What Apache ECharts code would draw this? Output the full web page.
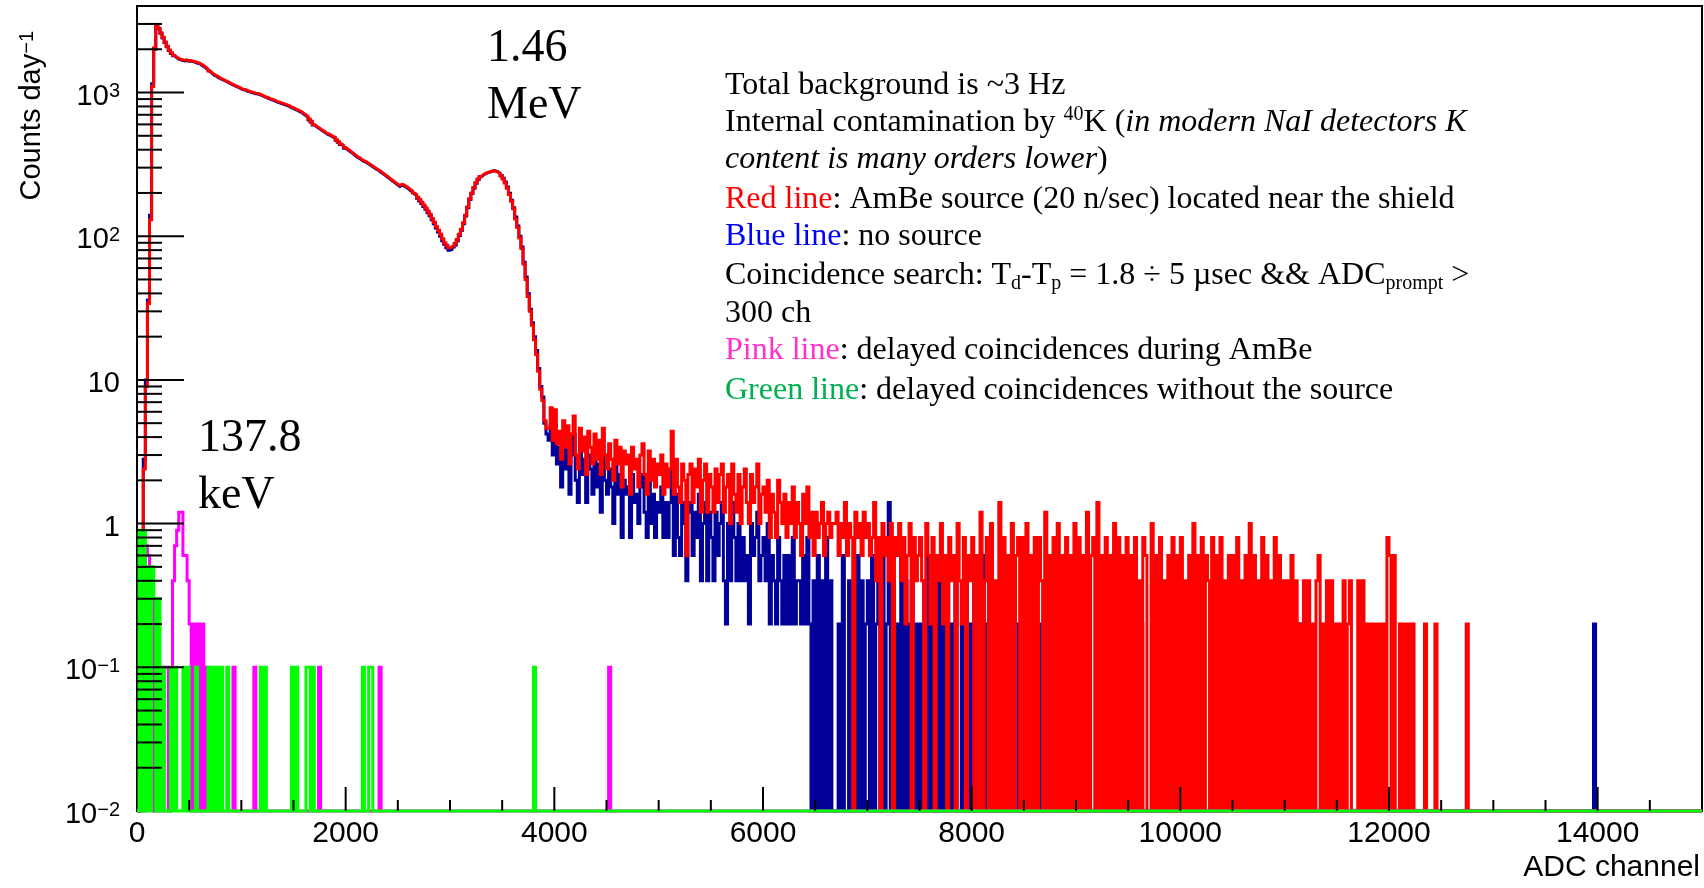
<!DOCTYPE html>
<html>
<head>
<meta charset="utf-8">
<script src="https://cdn.jsdelivr.net/npm/echarts@6/dist/echarts.min.js"></script>
<style>
  html, body { margin: 0; padding: 0; background: #ffffff; }
  #chart { width: 1704px; height: 888px; }
</style>
</head>
<body>
<div id="chart"></div>
<script>
// ---- histogram binning ----
const binWidth = 20;      // ADC channels per bin
const xMax = 15000;
const yMin = 0.01;
const yMax = 4000;

// ---- NaI spectrum with AmBe source (counts/day per bin), bins start at channel 0 ----
const redSpectrum = [
  0, 0, 0.6, 2.4, 9, 34, 130, 1100, 2050, 2950, 2800, 2600, 2420, 2250, 2100, 1980, 1890, 1820, 1770, 1730, 1700, 1690, 1680, 1690, 1660,
  1670, 1650, 1640, 1620, 1600, 1570, 1540, 1500, 1460, 1410, 1370, 1340, 1310, 1290, 1260, 1240, 1220, 1200, 1180, 1160, 1140, 1120, 1100, 1090, 1070,
  1055, 1050, 1030, 1020, 1010, 1000, 990, 985, 975, 960, 945, 930, 920, 905, 895, 885, 870, 860, 850, 840, 830, 820, 810, 795, 785,
  770, 760, 745, 735, 715, 700, 680, 655, 630, 600, 585, 570, 560, 545, 535, 520, 515, 505, 495, 490, 470, 455, 440, 430, 415,
  405, 395, 385, 375, 365, 355, 350, 340, 335, 330, 322, 316, 308, 300, 295, 288, 282, 275, 268, 262, 255, 248, 242, 236, 230,
  226, 230, 228, 222, 218, 212, 207, 200, 195, 187, 180, 172, 165, 157, 150, 142, 133, 125, 117, 110, 103, 96, 90, 86, 83,
  84, 86, 89, 95, 103, 112, 124, 140, 160, 182, 200, 218, 236, 250, 260, 268, 274, 277, 280, 283, 285, 282, 280, 272, 262,
  250, 235, 216, 195, 175, 155, 132, 115, 97, 82, 64, 50, 38, 30, 24, 19, 15, 11.5, 8.6, 7.2, 5.2, 4.6, 4.6, 6.4, 3.8,
  6.2, 3.6, 4.4, 2.8, 5.2, 3.4, 4.8, 2.6, 4.2, 5.6, 3.0, 2.4, 4.6, 3.2, 4.0, 2.2, 4.4, 3.4, 2.6, 4.2, 2.8, 3.8, 2.2, 4.6, 3.0,
  2.4, 3.6, 2.8, 2.0, 3.8, 2.6, 3.4, 1.8, 3.2, 2.6, 3.0, 1.6, 3.4, 2.4, 2.8, 1.8, 3.0, 3.6, 2.2, 1.6, 3.2, 2.0, 2.8, 1.8, 2.6,
  2.2, 3.0, 1.6, 2.6, 1.8, 2.4, 4.4, 1.6, 2.8, 1.8, 1.4, 2.6, 2.0, 0.6, 2.2, 2.6, 1.4, 2.4, 1.8, 2.8, 1.2, 2.0, 2.6, 1.2, 2.2,
  1.8, 1.2, 2.4, 1.4, 2.2, 2.6, 1.2, 1.8, 2.2, 1.0, 2.6, 1.6, 1.2, 2.2, 1.0, 1.8, 2.4, 1.4, 1.0, 2.2, 1.4, 1.8, 2.6, 1.0, 1.6,
  1.8, 1.2, 2.0, 0.8, 1.6, 1.2, 0.8, 2.0, 1.4, 1.0, 1.6, 0.8, 1.4, 1.0, 1.8, 0.8, 1.4, 1.0, 0.6, 1.6, 1.0, 1.8, 0.8, 1.2, 0.6,
  1.2, 0.8, 1.0, 1.4, 0.6, 1.0, 1.2, 0.8, 1.0, 1.0, 1.2, 0.6, 1.0, 0.8, 1.4, 0.6, 1.0, 0.8, 0, 1.2, 0.8, 1.0, 0.6, 1.2, 0.8,
  1.0, 0.6, 0.8, 1.4, 0.4, 0.8, 0, 1.0, 0.6, 0.8, 0.4, 1.0, 0, 0.8, 0.6, 1.0, 0.4, 0.8, 0.2, 0.6, 1.0, 0, 0.8, 0.4, 0.6,
  0.8, 0.4, 0, 1.0, 0.6, 0.2, 0.8, 0, 0.6, 0.4, 1.0, 0.2, 0.6, 0, 0.8, 0.4, 0.6, 0, 1.0, 0.4, 0.2, 0.8, 0, 0.6, 0.4,
  0.8, 0, 0.6, 0, 1.2, 0, 0.4, 0.8, 0, 1.0, 0, 0.4, 0, 1.4, 0, 0.8, 0, 0.6, 0, 1.0, 0, 0.6, 0.8, 0, 0.8,
  0, 1.0, 0, 0.6, 0, 0.8, 0, 0.8, 0.4, 0, 1.2, 0, 0.6, 0, 0.8, 0, 1.0, 0, 0.6, 0, 0.8, 0, 0.6, 0, 1.0,
  0, 0.8, 0, 0.6, 0, 1.2, 0, 0.6, 0.8, 0, 1.4, 0, 0.6, 0, 0.8, 0, 0.6, 0, 1.0, 0, 0.8, 0, 0.6, 0, 0.8,
  0, 0.6, 0, 0.8, 0, 0.4, 0, 0.8, 0.6, 0, 0, 1.0, 0, 0.6, 0, 0.8, 0, 0.4, 0, 0.6, 0, 0.8, 0, 0.6, 0,
  0.8, 0, 0.4, 0, 0.6, 0, 1.0, 0, 0.6, 0, 0.8, 0, 0.6, 0.4, 0, 0.8, 0, 0.6, 0, 0.8, 0, 0.4, 0, 0.6, 0,
  0.6, 0, 0.8, 0, 0.4, 0, 0.6, 0, 1.0, 0, 0.6, 0, 0.4, 0, 0.8, 0, 0.6, 0, 0.4, 0, 0.8, 0, 0.6, 0, 0.4,
  0, 0.4, 0, 0.6, 0, 0.4, 0, 0.2, 0, 0.4, 0, 0.4, 0, 0.2, 0, 0.4, 0.6, 0, 0.2, 0, 0.4, 0, 0.4, 0, 0.2,
  0, 0.2, 0, 0.4, 0, 0.2, 0.4, 0, 0, 0, 0.4, 0, 0.4, 0, 0.2, 0, 0.2, 0, 0.2, 0, 0.2, 0, 0.2, 0, 0.8,
  0.6, 0, 0.6, 0, 0, 0.2, 0, 0.2, 0, 0.2, 0, 0.2, 0, 0, 0, 0, 0, 0.2, 0, 0, 0, 0, 0.2
];
const redIsolated = [[12740, 0.2]];

// ---- NaI spectrum without source (counts/day per bin) ----
const blueSpectrum = [
  0, 0.3, 0.8, 2.8, 10, 36, 140, 1150, 2000, 2900, 2780, 2580, 2400, 2230, 2080, 1960, 1870, 1800, 1750, 1710, 1690, 1670, 1660, 1670, 1650,
  1650, 1640, 1620, 1600, 1590, 1550, 1520, 1480, 1440, 1400, 1360, 1320, 1300, 1270, 1250, 1230, 1210, 1190, 1170, 1150, 1130, 1110, 1095, 1080, 1060,
  1045, 1040, 1020, 1010, 1000, 990, 980, 975, 965, 950, 935, 920, 910, 895, 885, 875, 860, 850, 840, 830, 820, 810, 800, 785, 775,
  760, 750, 735, 725, 705, 690, 670, 645, 620, 595, 580, 565, 552, 540, 528, 515, 508, 498, 490, 482, 465, 450, 435, 425, 410,
  400, 390, 380, 370, 360, 352, 345, 336, 331, 326, 318, 312, 304, 297, 291, 285, 278, 272, 265, 258, 252, 245, 239, 233, 227,
  222, 226, 224, 219, 214, 208, 203, 197, 191, 184, 176, 169, 161, 154, 146, 139, 130, 122, 114, 107, 100, 93, 88, 83, 80,
  81, 84, 87, 93, 101, 110, 122, 138, 158, 180, 198, 216, 234, 248, 258, 266, 272, 276, 279, 282, 286, 284, 281, 274, 265,
  253, 238, 220, 199, 178, 158, 136, 118, 100, 84, 66, 52, 40, 31, 25, 20, 16, 12, 9, 7.6, 5.0, 4.2, 3.8, 4.8, 3.0,
  4.8, 2.6, 3.4, 1.8, 3.8, 2.4, 3.6, 1.6, 3.0, 4.2, 2.0, 1.4, 3.2, 2.2, 2.8, 1.4, 3.0, 2.4, 1.6, 2.8, 1.8, 2.6, 1.2, 3.0, 2.0,
  1.6, 2.4, 1.8, 1.0, 2.6, 1.6, 2.2, 0.8, 2.0, 1.6, 1.8, 0.8, 2.2, 1.4, 1.6, 1.0, 1.8, 2.2, 1.2, 0.8, 2.0, 1.0, 1.6, 0.8, 1.4,
  1.2, 1.8, 0.8, 1.4, 0.8, 1.4, 2.4, 0.6, 1.6, 0.8, 0.6, 1.4, 1.0, 0.4, 1.2, 1.4, 0.6, 1.2, 0.8, 1.6, 0.4, 1.0, 1.4, 0.4, 1.2,
  0.8, 0.4, 1.2, 0.6, 1.0, 1.4, 0.4, 0.2, 1.0, 0.4, 1.4, 0.8, 0.4, 1.0, 0.4, 0.8, 0.4, 0.6, 0.2, 1.0, 0.6, 0.8, 1.2, 0.4, 0.6,
  0.8, 0.4, 1.0, 0.2, 0.6, 0.4, 0.2, 0.8, 0.4, 0.2, 0.6, 0.2, 0.6, 0.2, 0.8, 0.2, 0.4, 0.4, 0.2, 0.6, 0.2, 0.8, 0.2, 0, 0.4,
  0, 0.6, 0, 0.4, 0, 0.8, 0, 0.4, 0, 0, 0, 0.2, 0, 0.6, 0, 0, 0.4, 0, 0.2, 0, 0.6, 0, 0.4, 0, 0.2,
  0.4, 0, 0.6, 0, 0.2, 0.4, 0, 0.6, 0, 0.2, 1.4, 0, 0.4, 0, 0.2, 0, 0.6, 0, 0.4, 0, 0.2, 0.4, 0, 0.2, 0,
  0.2, 0, 0.4, 0, 0.6, 0, 0.2, 0, 0, 0.4, 0, 0.2, 0, 0.6, 0, 0.2, 0, 0.4, 0, 0, 0.2, 0, 0.4, 0, 0.2,
  0, 0.4, 0, 0.2, 0, 0.6, 0, 0.2, 0, 0.4, 0, 0, 0.2, 0, 0.4, 0, 0.2, 0, 0, 0.6, 0, 0.2, 0, 0, 0.2,
  0, 0, 0.2, 0, 0, 0, 0, 0.2, 0, 0, 0, 0, 0.2, 0, 0, 0, 0, 0, 0, 0, 0.2, 0, 0, 0, 0,
  0, 0, 0, 0.2, 0, 0, 0, 0, 0, 0, 0.4, 0, 0, 0, 0, 0, 0, 0, 0, 0, 0, 0, 0, 0, 0,
  0, 0, 0, 0, 0, 0, 0.2, 0, 0, 0, 0, 0, 0, 0, 0, 0, 0, 0, 0, 0, 0, 0.2, 0, 0, 0,
  0, 0, 0, 0, 0, 0, 0, 0, 0.2, 0, 0, 0, 0, 0, 0, 0, 0.2, 0, 0.2, 0, 0, 0, 0, 0.2, 0,
  0, 0, 0, 0, 0, 0.2, 0.2, 0, 0, 0, 0, 0, 0, 0, 0, 0, 0, 0, 0, 0, 0, 0, 0.2, 0, 0,
  0, 0, 0, 0, 0, 0, 0, 0.2
];
const blueIsolated = [[13960, 0.2]];

// ---- delayed coincidences, non-empty bins as [channel, counts/day] ----
const pinkBins = [
  [80, 0.7], [100, 0.6], [120, 0.4], [140, 0.3], [220, 0.1], [260, 0.1], [280, 0.1],
  [320, 0.1], [340, 0.4], [360, 0.7], [380, 0.9], [400, 1.2], [420, 1.2], [440, 0.6], [460, 0.6], [480, 0.4],
  [500, 0.2], [540, 0.2], [580, 0.2], [620, 0.2], [660, 0.1], [920, 0.1], [1120, 0.1],
  [1740, 0.1], [2320, 0.1], [4520, 0.1]
];
const greenBins = [
  [20, 0.9], [60, 0.9], [100, 0.5], [140, 0.5], [160, 0.3], [200, 0.3], [240, 0.1],
  [320, 0.1], [360, 0.1], [440, 0.1], [480, 0.1], [560, 0.1],
  [680, 0.1], [720, 0.1], [760, 0.1], [800, 0.1], [860, 0.1],
  [1180, 0.1], [1220, 0.1], [1480, 0.1], [1520, 0.1], [1620, 0.1], [1640, 0.1], [1680, 0.1],
  [2160, 0.1], [2220, 0.1], [2240, 0.1], [3800, 0.1]
];

// ---- axis labels ----
const xTickLabels = [0, 2000, 4000, 6000, 8000, 10000, 12000, 14000];
const yTickLabels = [0.01, 0.1, 1, 10, 100, 1000];

// ---- text ----
const peakLabels = [['1.46', 'MeV'], ['137.8', 'keV']];
const noteLines = [
  '{t|Total background is ~3 Hz}',
  '{t|Internal contamination by }{sup|40}{t|K (}{it|in modern NaI detectors K}',
  '{it|content is many orders lower}{t|)}',
  '{red|Red line}{t|: AmBe source (20 n/sec) located near the shield}',
  '{blue|Blue line}{t|: no source}',
  '{t|Coincidence search: T}{sub|d}{t|-T}{sub|p}{t| = 1.8 \u00f7 5 \u00b5sec && ADC}{sub|prompt}{t| >}',
  '{t|300 ch}',
  '{pink|Pink line}{t|: delayed coincidences during AmBe}',
  '{green|Green line}{t|: delayed coincidences without the source}'
];

// ---------------------------------------------------------------
const SANS = '"Liberation Sans", Arial, Helvetica, sans-serif';
const SERIF = '"Liberation Serif", "Times New Roman", serif';
const nBins = xMax / binWidth;

// Fill a full-range bin array from a dense list and/or [channel, value] pairs
function toBins(dense, sparse) {
  const bins = new Array(nBins).fill(0);
  (dense || []).forEach((v, i) => { if (i < nBins) bins[i] = v; });
  (sparse || []).forEach(([ch, v]) => { bins[Math.floor(ch / binWidth)] = v; });
  return bins;
}
// ROOT-style step outline; empty bins fall to the bottom of the log frame
function stepOutline(bins) {
  const pts = [];
  bins.forEach((v, i) => {
    const y = v > yMin ? v : yMin;
    pts.push([i * binWidth, y], [(i + 1) * binWidth, y]);
  });
  return pts;
}
function histSeries(name, bins, color, z) {
  return {
    name, type: 'line', data: stepOutline(bins), z,
    symbol: 'none', showSymbol: false, silent: true, clip: false,
    animation: false,
    lineStyle: { color, width: 3, join: 'miter', cap: 'butt' }
  };
}

// tick marks drawn inside the frame
const xTicks = [];
for (let ch = 500; ch < xMax; ch += 500) xTicks.push([ch, yMin, ch % 2000 === 0 ? 1 : 0]);
const yTicks = [];
for (let e = -2; e <= 3; e++) {
  for (let k = 1; k <= 9; k++) {
    const v = Number((k * Math.pow(10, e)).toPrecision(3));
    if (v > yMin && v < yMax) yTicks.push([0, v, k === 1 ? 1 : 0]);
  }
}
function tickSeries(data, vertical) {
  return {
    type: 'custom', data, z: 20, silent: true, animation: false, clip: false,
    encode: { x: 0, y: 1 },
    renderItem(params, api) {
      const p = api.coord([api.value(0), api.value(1)]);
      const major = api.value(2) === 1;
      const len = vertical ? (major ? 24 : 11) : (major ? 47 : 25);
      return {
        type: 'line',
        shape: vertical
          ? { x1: p[0], y1: p[1], x2: p[0], y2: p[1] - len }
          : { x1: p[0], y1: p[1], x2: p[0] + len, y2: p[1] },
        style: { stroke: '#000', lineWidth: 2 }
      };
    }
  };
}

function powerLabel(v) {
  const e = Math.round(Math.log10(v));
  if (e === 0) return '{b|1}';
  if (e === 1) return '{b|10}';
  return '{b|10}{s|' + (e < 0 ? '\u2212' + (-e) : String(e)) + '}';
}

const noteRich = {
  t: { fontFamily: SERIF, fontSize: 32, lineHeight: 36, fill: '#000000' },
  it: { fontFamily: SERIF, fontSize: 32, lineHeight: 36, fontStyle: 'italic', fill: '#000000' },
  red: { fontFamily: SERIF, fontSize: 32, lineHeight: 36, fill: '#ff0000' },
  blue: { fontFamily: SERIF, fontSize: 32, lineHeight: 36, fill: '#0000ff' },
  pink: { fontFamily: SERIF, fontSize: 32, lineHeight: 36, fill: '#ff33cc' },
  green: { fontFamily: SERIF, fontSize: 32, lineHeight: 36, fill: '#00b050' },
  sup: { fontFamily: SERIF, fontSize: 20, lineHeight: 26, verticalAlign: 'top', fill: '#000000' },
  sub: { fontFamily: SERIF, fontSize: 20, lineHeight: 14, verticalAlign: 'bottom', fill: '#000000' }
};
const noteCenters = [85.8, 122.5, 159.2, 199.2, 236.5, 275.8, 313.2, 350.8, 390.8];

const graphics = [];
noteLines.forEach((line, i) => {
  graphics.push({
    type: 'text', x: 725, y: noteCenters[i], silent: true, z: 30,
    style: { text: line, rich: noteRich, align: 'left', verticalAlign: 'middle' }
  });
});
const peakPos = [{ x: 487, y: [49, 105.5] }, { x: 198, y: [439, 495.5] }];
peakLabels.forEach((pair, i) => {
  pair.forEach((s, j) => {
    graphics.push({
      type: 'text', x: peakPos[i].x, y: peakPos[i].y[j], silent: true, z: 30,
      style: { text: s, fontFamily: SERIF, fontSize: 46, fill: '#000', align: 'left', verticalAlign: 'middle' }
    });
  });
});
graphics.push({
  type: 'text', x: 1700, y: 868, silent: true, z: 30,
  style: { text: 'ADC channel', fontFamily: SANS, fontSize: 30, fill: '#000', align: 'right', verticalAlign: 'middle' }
});
graphics.push({
  type: 'text', x: 32, y: 31, rotation: Math.PI / 2, silent: true, z: 30,
  style: {
    text: '{b|Counts day}{s|\u22121}', align: 'right', verticalAlign: 'middle',
    rich: {
      b: { fontFamily: SANS, fontSize: 29, lineHeight: 30, fill: '#000000' },
      s: { fontFamily: SANS, fontSize: 20, lineHeight: 14, verticalAlign: 'top', fill: '#000000' }
    }
  }
});

const chart = echarts.init(document.getElementById('chart'), null, { renderer: 'canvas' });
chart.setOption({
  animation: false,
  backgroundColor: '#ffffff',
  grid: {
    left: 137, top: 6, right: 2, bottom: 77,
    show: true, borderColor: '#000', borderWidth: 2, backgroundColor: 'transparent'
  },
  xAxis: {
    type: 'value', min: 0, max: xMax, interval: 2000,
    axisLine: { show: false }, axisTick: { show: false }, splitLine: { show: false },
    axisLabel: {
      customValues: xTickLabels, margin: 8,
      formatter: (v) => String(v),
      fontFamily: SANS, fontSize: 30, color: '#000'
    }
  },
  yAxis: {
    type: 'log', logBase: 10, min: yMin, max: yMax,
    axisLine: { show: false }, axisTick: { show: false }, splitLine: { show: false },
    axisLabel: {
      customValues: yTickLabels, margin: 17, padding: [8, 0, 0, 0],
      formatter: powerLabel,
      rich: {
        b: { fontFamily: SANS, fontSize: 29, lineHeight: 30, color: '#000' },
        s: { fontFamily: SANS, fontSize: 20, lineHeight: 14, verticalAlign: 'top', color: '#000' }
      }
    }
  },
  series: [
    histSeries('Blue line', toBins(blueSpectrum, blueIsolated), '#000099', 2),
    histSeries('Red line', toBins(redSpectrum, redIsolated), '#ff0000', 3),
    histSeries('Pink line', toBins(null, pinkBins), '#ff00ff', 4),
    histSeries('Green line', toBins(null, greenBins), '#00ff00', 5),
    tickSeries(xTicks, true),
    tickSeries(yTicks, false)
  ],
  graphic: graphics
});
</script>
</body>
</html>
